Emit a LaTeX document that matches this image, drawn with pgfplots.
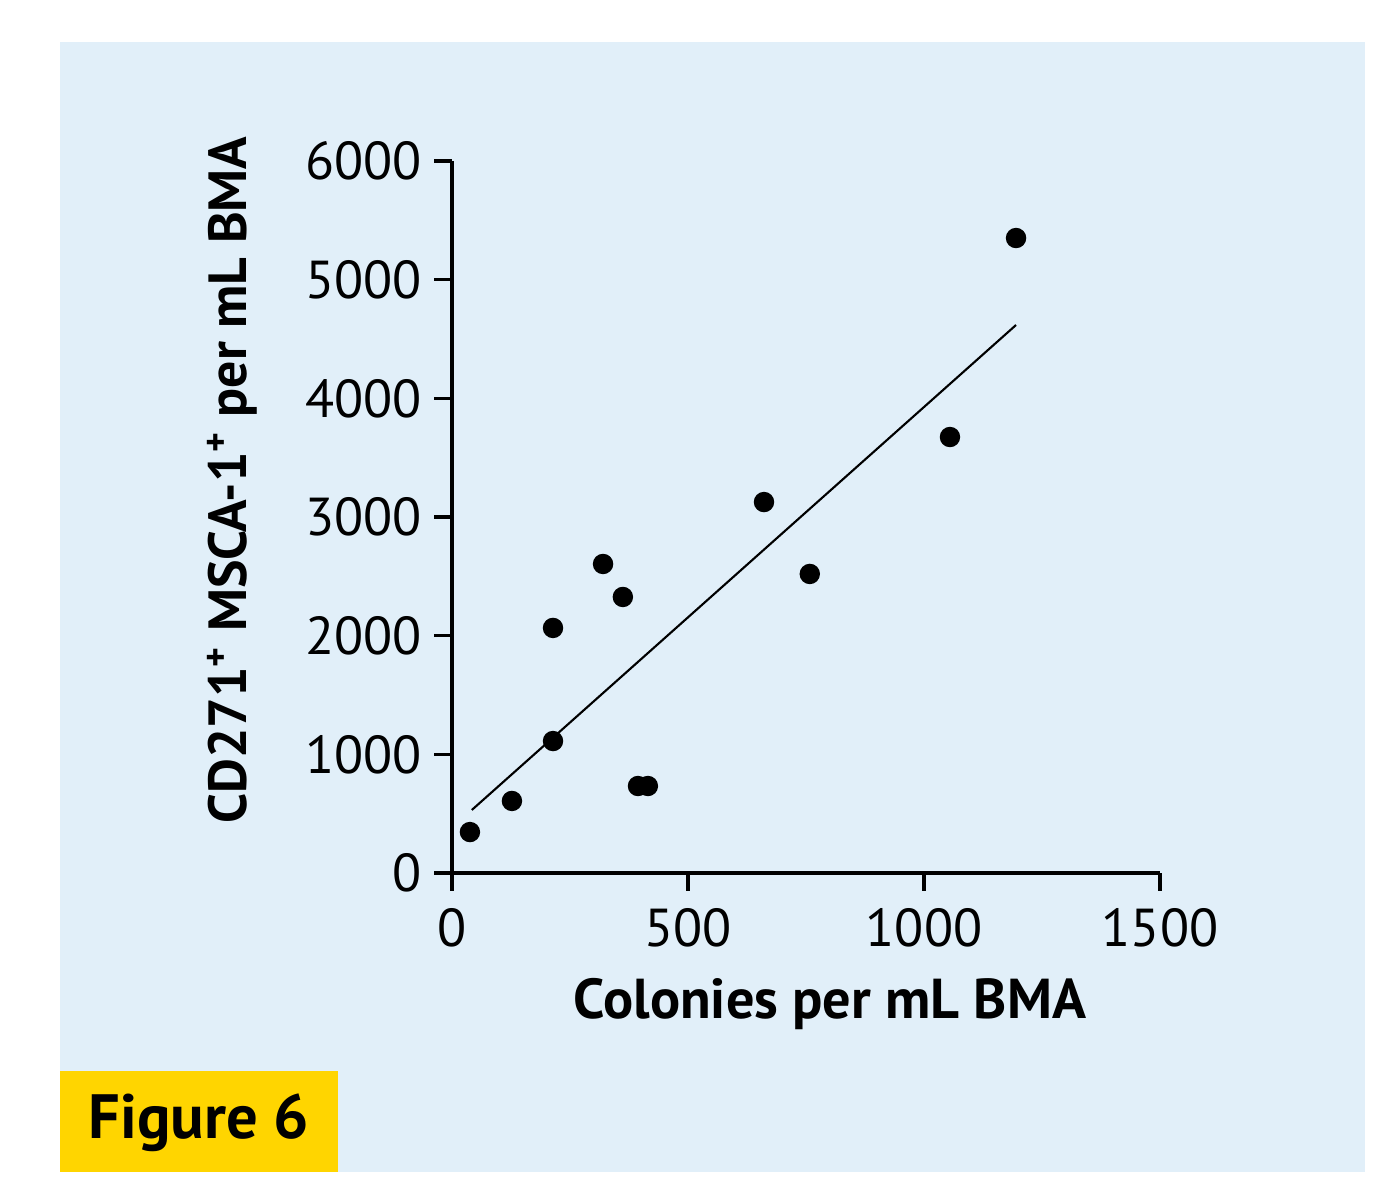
\documentclass[border=0pt]{standalone}
\usepackage{pgfplots}
\pgfplotsset{compat=1.18}
\usepackage{fontspec}
\setmainfont{PT Sans}
\definecolor{bgblue}{HTML}{E1EFF9}
\definecolor{figyellow}{HTML}{FFD500}
\begin{document}
\begin{tikzpicture}[x=1mm,y=1mm]
\fill[white] (0,0) rectangle (138,118.1);
\fill[bgblue] (6,0.9) rectangle (136.5,113.9);
\fill[figyellow] (6,0.9) rectangle (33.8,11.0);
\node[font=\fontsize{17.8}{21}\selectfont\bfseries] at (19.9,5.8) {Figure 6};
\begin{axis}[
  at={(45.2mm,30.8mm)}, anchor=south west,
  scale only axis, width=70.8mm, height=71.2mm,
  xmin=0, xmax=1500, ymin=0, ymax=6000,
  axis x line*=bottom, axis y line*=left,
  axis line style={line width=1pt,-},
  every tick/.style={line width=1pt, black},
  tick align=outside, major tick length=1.8mm,
  xtick={0,500,1000,1500}, ytick={0,1000,...,6000},
  /pgf/number format/assume math mode=true,
  /pgf/number format/1000 sep={},
  tick label style={font=\fontsize{15.2}{18}\selectfont},
  xticklabel style={yshift=-0.5mm},
  xlabel={Colonies per mL BMA},
  ylabel={CD271\textsuperscript{+} MSCA-1\textsuperscript{+} per mL BMA},
  xlabel style={font=\fontsize{16}{19}\selectfont\bfseries, at={(axis description cs:0.5,0)}, anchor=center, yshift=-13.1mm, xshift=2.4mm},
  ylabel style={font=\fontsize{15.3}{19}\selectfont\bfseries, at={(axis description cs:0,0.552)}, anchor=center, yshift=22mm},
  clip=false,
]
\addplot[only marks, mark=*, mark size=0.95mm, black] coordinates {
(38,345) (127,607) (214,1112) (214,2065) (320,2604) (362,2326)
(394,733) (415,733) (661,3126) (758,2520) (1055,3674) (1195,5351)
};
\addplot[no marks, line width=0.6pt, black] coordinates {(42,531) (1195,4618)};
\end{axis}
\end{tikzpicture}
\end{document}
